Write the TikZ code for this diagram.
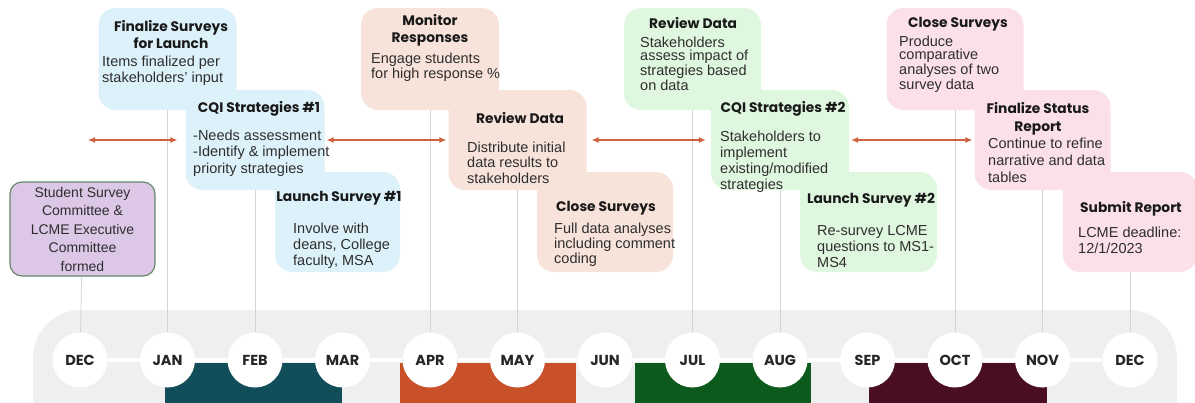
\documentclass[tikz,border=0pt]{standalone}
\usepackage{xcolor}
\usepackage{fontspec}
\setmainfont{Liberation Sans}
\newfontfamily\headfont{Poppins}
\usepackage{tikz}
\usetikzlibrary{arrows.meta}

\definecolor{skyfill}{HTML}{DCF1FA}
\definecolor{peachfill}{HTML}{F8E3DB}
\definecolor{mintfill}{HTML}{E0F7DF}
\definecolor{rosefill}{HTML}{FBE0E8}
\definecolor{lilacfill}{HTML}{DCC7E6}
\definecolor{lilacedge}{HTML}{66896A}
\definecolor{linkred}{HTML}{D0633F}
\definecolor{bandgray}{HTML}{EFEFEF}
\definecolor{qone}{HTML}{124E5A}
\definecolor{qtwo}{HTML}{C9512A}
\definecolor{qthree}{HTML}{0C5A1C}
\definecolor{qfour}{HTML}{4A0E22}
\definecolor{inkgray}{HTML}{2E2E2E}

\begin{document}
\begin{tikzpicture}[
    x=1pt, y=-1pt,
    event/.style={rectangle, rounded corners=17pt, inner sep=0pt, minimum width=138pt, minimum height=101pt},
    % multi-line texts sit on the baseline of their last line
    evtitle/.style={anchor=base, inner sep=0pt, align=center, text=black!90, font=\headfont\bfseries\fontsize{13.8}{17}\selectfont},
    evbody/.style={anchor=base west, inner sep=0pt, align=left, text=inkgray, font=\fontsize{14.5}{16}\selectfont},
    tightbody/.style={evbody, font=\fontsize{14.5}{13.3}\selectfont},
    month/.style={circle, fill=white, minimum size=55pt, inner sep=0pt, text=black!85, font=\headfont\bfseries\fontsize{14.5}{14}\selectfont},
    drop/.style={draw=black!17, line width=0.8pt},
    link/.style={{Latex[length=7pt,width=6pt]}-{Latex[length=7pt,width=6pt]}, draw=linkred, line width=1.1pt}
]
    \useasboundingbox (0,0) rectangle (1195,402);

    % Timeline band and quarter blocks
    \fill[bandgray, rounded corners=48pt] (33,310) rectangle (1177,460);
    \fill[qone]   (165,363) rectangle (342,410);
    \fill[qtwo]   (400,363) rectangle (576,410);
    \fill[qthree] (635,363) rectangle (811,410);
    \fill[qfour]  (869,363) rectangle (1047,410);

    % Months
    \foreach \m [count=\i from 0] in {DEC,JAN,FEB,MAR,APR,MAY,JUN,JUL,AUG,SEP,OCT,NOV,DEC}
        \node[month] (m\i) at (80+87.5*\i, 360) {\m};
    \draw[white, line width=4pt] (m0) -- (m1);
    \foreach \i [count=\j from 2] in {1,...,11}
        \draw[white, line width=4pt] (m\i) -- (m\j);

    % Kick-off
    \node[rectangle, rounded corners=12pt, draw=lilacedge, line width=1.2pt, fill=lilacfill,
          minimum width=145pt, minimum height=94pt, align=center, text=inkgray,
          font=\fontsize{14}{18.5}\selectfont] (kickoff) at (82.5,229)
        {Student Survey\\Committee \&\\LCME Executive\\Committee\\formed};

    % Boxes
    \node[event, fill=skyfill, minimum height=102pt] (finalize) at (167.5,59) {};
    \node[event, fill=skyfill, minimum width=139pt, minimum height=100pt] (cqione) at (255,140) {};
    \node[event, fill=skyfill, minimum width=125pt, minimum height=100pt] (launchone) at (337.5,222) {};

    \node[event, fill=peachfill, minimum height=102pt] (monitor) at (430,59) {};
    \node[event, fill=peachfill, minimum height=100pt] (reviewone) at (517.5,140) {};
    \node[event, fill=peachfill, minimum width=136pt, minimum height=100pt] (closeone) at (605,222) {};

    \node[event, fill=mintfill, minimum width=137pt, minimum height=102pt] (reviewtwo) at (692.5,59) {};
    \node[event, fill=mintfill, minimum height=100pt] (cqitwo) at (780,140) {};
    \node[event, fill=mintfill, minimum width=137pt, minimum height=100pt] (launchtwo) at (868.5,222) {};

    \node[event, fill=rosefill, minimum width=137pt, minimum height=102pt] (closetwo) at (955,59) {};
    \node[event, fill=rosefill, minimum width=136pt, minimum height=100pt] (status) at (1042.5,140) {};
    \node[event, fill=rosefill, minimum width=134pt, minimum height=100pt] (submit) at (1130,222) {};

    % First survey round
    \node[evtitle] (finalize-t) at (171,48) {Finalize Surveys\\for Launch};
    \node[evbody] (finalize-b) at (102,82) {Items finalized per\\stakeholders' input};
    \node[evtitle] (cqione-t) at (259,112) {CQI Strategies \#1};
    \node[evbody, font=\fontsize{14.5}{16.5}\selectfont] (cqione-b) at (193,173) {-Needs assessment\\-Identify \& implement\\priority strategies};
    \node[evtitle] (launchone-t) at (339,201) {Launch Survey \#1};
    \node[evbody] (launchone-b) at (293,265) {Involve with\\deans, College\\faculty, MSA};

    % First results
    \node[evtitle] (monitor-t) at (430,42) {Monitor\\Responses};
    \node[evbody, font=\fontsize{14.5}{15}\selectfont] (monitor-b) at (371,78) {Engage students\\for high response \%};
    \node[evtitle] (reviewone-t) at (520,123) {Review Data};
    \node[evbody, font=\fontsize{14.5}{15.5}\selectfont] (reviewone-b) at (467,183) {Distribute initial\\data results to\\stakeholders};
    \node[evtitle] (closeone-t) at (606,211) {Close Surveys};
    \node[evbody, font=\fontsize{14.5}{15}\selectfont] (closeone-b) at (554,263) {Full data analyses\\including comment\\coding};

    % Second survey round
    \node[evtitle] (reviewtwo-t) at (693,28) {Review Data};
    \node[tightbody] (reviewtwo-b) at (640,90) {Stakeholders\\assess impact of\\strategies based\\on data};
    \node[evtitle] (cqitwo-t) at (783,112) {CQI Strategies \#2};
    \node[evbody] (cqitwo-b) at (720,189) {Stakeholders to\\implement\\existing/modified\\strategies};
    \node[evtitle] (launchtwo-t) at (871,203) {Launch Survey \#2};
    \node[evbody] (launchtwo-b) at (817,267) {Re-survey LCME\\questions to MS1-\\MS4};

    % Reporting
    \node[evtitle] (closetwo-t) at (958,27) {Close Surveys};
    \node[tightbody] (closetwo-b) at (899,89) {Produce\\comparative\\analyses of two\\survey data};
    \node[evtitle, font=\headfont\bfseries\fontsize{13.8}{18}\selectfont] (status-t) at (1038,131) {Finalize Status\\Report};
    \node[evbody, font=\fontsize{14.5}{17}\selectfont] (status-b) at (988,182) {Continue to refine\\narrative and data\\tables};
    \node[evtitle] (submit-t) at (1131,212) {Submit Report};
    \node[evbody] (submit-b) at (1078,253) {LCME deadline:\\12/1/2023};

    % Drops to the months
    \draw[drop] (kickoff) -- (m0);
    \draw[drop] (finalize) -- (m1);
    \draw[drop] (cqione) -- (m2);
    \draw[drop] (monitor) -- (m4);
    \draw[drop] (reviewone) -- (m5);
    \draw[drop] (reviewtwo) -- (m7);
    \draw[drop] (cqitwo) -- (m8);
    \draw[drop] (closetwo) -- (m10);
    \draw[drop] (status) -- (m11);
    \draw[drop] (submit) -- (m12);

    % Links between the CQI stages
    \coordinate (linkstart) at (88,140);
    \draw[link, shorten >=8pt] (linkstart) -- (cqione.west);
    \draw[link, shorten <=2pt, shorten >=2pt] (cqione) -- (reviewone);
    \draw[link, shorten <=5pt, shorten >=5pt] (reviewone) -- (cqitwo);
    \draw[link, shorten <=2pt, shorten >=2pt] (cqitwo) -- (status);
\end{tikzpicture}
\end{document}
